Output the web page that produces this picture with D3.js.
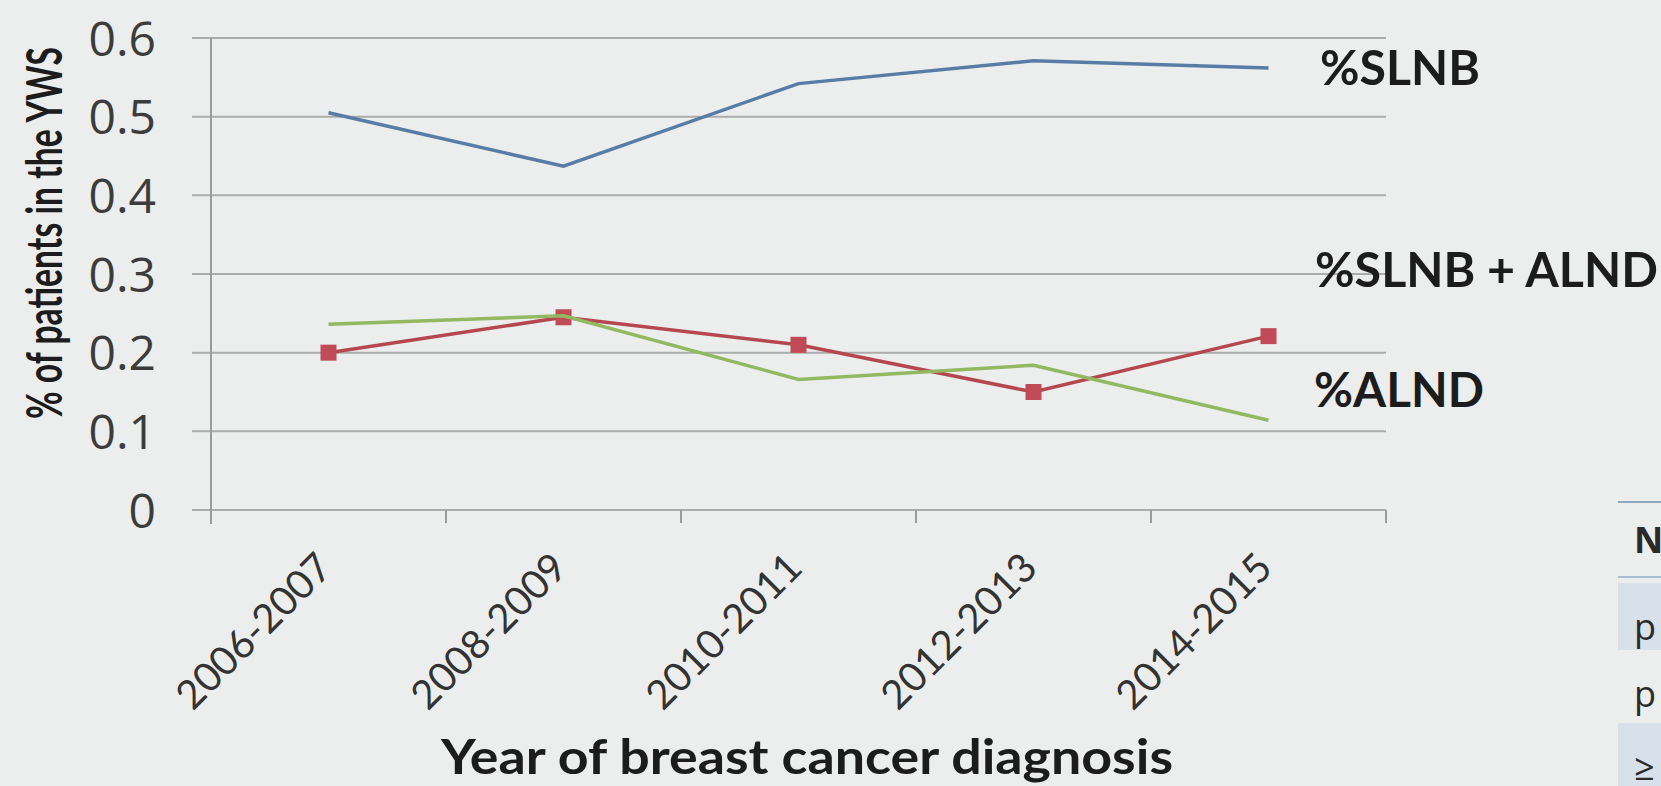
<!DOCTYPE html>
<html>
<head>
<meta charset="utf-8">
<script src="https://cdn.jsdelivr.net/npm/d3@7"></script>
<style>
  html, body { margin: 0; padding: 0; background: #eceeed; overflow: hidden; }
  svg { display: block; }
</style>
</head>
<body>
<svg id="chart" width="1661" height="786"></svg>
<script>
// data
const periods = ["2006-2007", "2008-2009", "2010-2011", "2012-2013", "2014-2015"];
const slnb = [0.505, 0.437, 0.542, 0.571, 0.562];
const slnbAlnd = [0.200, 0.245, 0.210, 0.150, 0.221];
const alnd = [0.236, 0.247, 0.166, 0.184, 0.114];
const yTicks = [0, 0.1, 0.2, 0.3, 0.4, 0.5, 0.6];
const seriesLabels = ["%SLNB", "%SLNB + ALND", "%ALND"];
const tableGlimpse = ["N", "p", "p", "\u2265"];

const svg = d3.select("#chart");
const width = +svg.attr("width");
const height = +svg.attr("height");

svg.append("rect")
    .attr("width", width)
    .attr("height", height)
    .attr("fill", "#eceeed");

const x = d3.scaleBand().domain(periods).range([211, 1386]);
const y = d3.scaleLinear().domain([0, 0.6]).range([510, 38]);
const cx = d => x(d) + x.bandwidth() / 2;

// gridlines (they run a little left of the axis, like ticks)
svg.append("g")
    .selectAll("line")
    .data(yTicks)
    .enter().append("line")
    .attr("x1", 192)
    .attr("x2", x.range()[1])
    .attr("y1", d => y(d))
    .attr("y2", d => y(d))
    .attr("stroke", "#abacab")
    .attr("stroke-width", 2);

// y axis line
svg.append("line")
    .attr("x1", x.range()[0]).attr("x2", x.range()[0])
    .attr("y1", y(0.6)).attr("y2", y(0) + 14)
    .attr("stroke", "#9a9b9a")
    .attr("stroke-width", 2);

// x tick marks sit on the category boundaries
svg.append("g")
    .selectAll("line")
    .data(d3.range(periods.length + 1))
    .enter().append("line")
    .attr("x1", i => x.range()[0] + i * x.step())
    .attr("x2", i => x.range()[0] + i * x.step())
    .attr("y1", y(0))
    .attr("y2", y(0) + 13)
    .attr("stroke", "#9a9b9a")
    .attr("stroke-width", 2);

// y axis labels
const yAxis = svg.append("g")
    .attr("transform", `translate(${x.range()[0]},0)`)
    .call(d3.axisLeft(y)
        .tickValues(yTicks)
        .tickSize(0)
        .tickPadding(55)
        .tickFormat(d => d === 0 ? "0" : d3.format(".1f")(d)));
yAxis.select(".domain").remove();
yAxis.selectAll("text")
    .attr("font-family", "'Open Sans', sans-serif")
    .attr("font-size", 48)
    .attr("fill", "#3c3c3c")
    .attr("dy", "0.36em");

// x axis labels, rotated
const xAxis = svg.append("g")
    .attr("transform", `translate(0,${y(0)})`)
    .call(d3.axisBottom(x).tickSize(0));
xAxis.select(".domain").remove();
xAxis.selectAll("text")
    .attr("x", 0).attr("y", 0).attr("dy", 0)
    .attr("text-anchor", "end")
    .attr("transform", "translate(6,60) rotate(-45)")
    .attr("font-family", "Lato, sans-serif")
    .attr("font-size", 40)
    .attr("fill", "#333333");

// axis titles
svg.append("text")
    .attr("transform", "translate(62,233) rotate(-90)")
    .attr("text-anchor", "middle")
    .attr("font-family", "Lato, sans-serif")
    .attr("font-weight", "bold")
    .attr("font-size", 50)
    .attr("textLength", 372)
    .attr("lengthAdjust", "spacingAndGlyphs")
    .attr("fill", "#1c1c1c")
    .text("% of patients in the YWS");

svg.append("text")
    .attr("x", 807)
    .attr("y", 774)
    .attr("text-anchor", "middle")
    .attr("font-family", "Lato, sans-serif")
    .attr("font-weight", "bold")
    .attr("font-size", 47)
    .attr("textLength", 732)
    .attr("lengthAdjust", "spacingAndGlyphs")
    .attr("fill", "#1c1c1c")
    .text("Year of breast cancer diagnosis");

// lines
const line = d3.line()
    .x((d, i) => cx(periods[i]))
    .y(d => y(d));

svg.append("path")
    .datum(slnb)
    .attr("d", line)
    .attr("fill", "none")
    .attr("stroke", "#587ca5")
    .attr("stroke-width", 3.5);

svg.append("path")
    .datum(slnbAlnd)
    .attr("d", line)
    .attr("fill", "none")
    .attr("stroke", "#b4474f")
    .attr("stroke-width", 3.5);

svg.append("g")
    .selectAll("rect")
    .data(slnbAlnd)
    .enter().append("rect")
    .attr("x", (d, i) => cx(periods[i]) - 8)
    .attr("y", d => y(d) - 8)
    .attr("width", 16)
    .attr("height", 16)
    .attr("fill", "#c04a55");

svg.append("path")
    .datum(alnd)
    .attr("d", line)
    .attr("fill", "none")
    .attr("stroke", "#92b862")
    .attr("stroke-width", 3.5);

// series labels on the right
const labelPos = [[1320, 85, 160], [1315, 287, 343], [1314, 407, 170]];
svg.append("g")
    .selectAll("text")
    .data(seriesLabels)
    .enter().append("text")
    .attr("x", (d, i) => labelPos[i][0])
    .attr("y", (d, i) => labelPos[i][1])
    .attr("textLength", (d, i) => labelPos[i][2])
    .attr("lengthAdjust", "spacingAndGlyphs")
    .attr("font-family", "Lato, sans-serif")
    .attr("font-weight", "bold")
    .attr("font-size", 48)
    .attr("fill", "#1c1c1c")
    .text(d => d);

// bit of a table cut off at the bottom right edge
const tbl = svg.append("g");
tbl.append("rect").attr("x", 1618).attr("y", 583).attr("width", 50).attr("height", 67).attr("fill", "#d8e1e9");
tbl.append("rect").attr("x", 1618).attr("y", 723).attr("width", 50).attr("height", 70).attr("fill", "#d8e1e9");
tbl.append("line").attr("x1", 1618).attr("x2", 1661).attr("y1", 502).attr("y2", 502)
    .attr("stroke", "#8fa6bd").attr("stroke-width", 2);
tbl.append("line").attr("x1", 1618).attr("x2", 1661).attr("y1", 577).attr("y2", 577)
    .attr("stroke", "#a8bdd2").attr("stroke-width", 2);
const rowBase = [553, 640, 707, 780];
tbl.selectAll("text")
    .data(tableGlimpse)
    .enter().append("text")
    .attr("x", 1634)
    .attr("y", (d, i) => rowBase[i])
    .attr("font-family", "'Open Sans', sans-serif")
    .attr("font-weight", (d, i) => i === 0 ? "bold" : "normal")
    .attr("font-size", 36)
    .attr("fill", "#2a2a2a")
    .text(d => d);
</script>
</body>
</html>
